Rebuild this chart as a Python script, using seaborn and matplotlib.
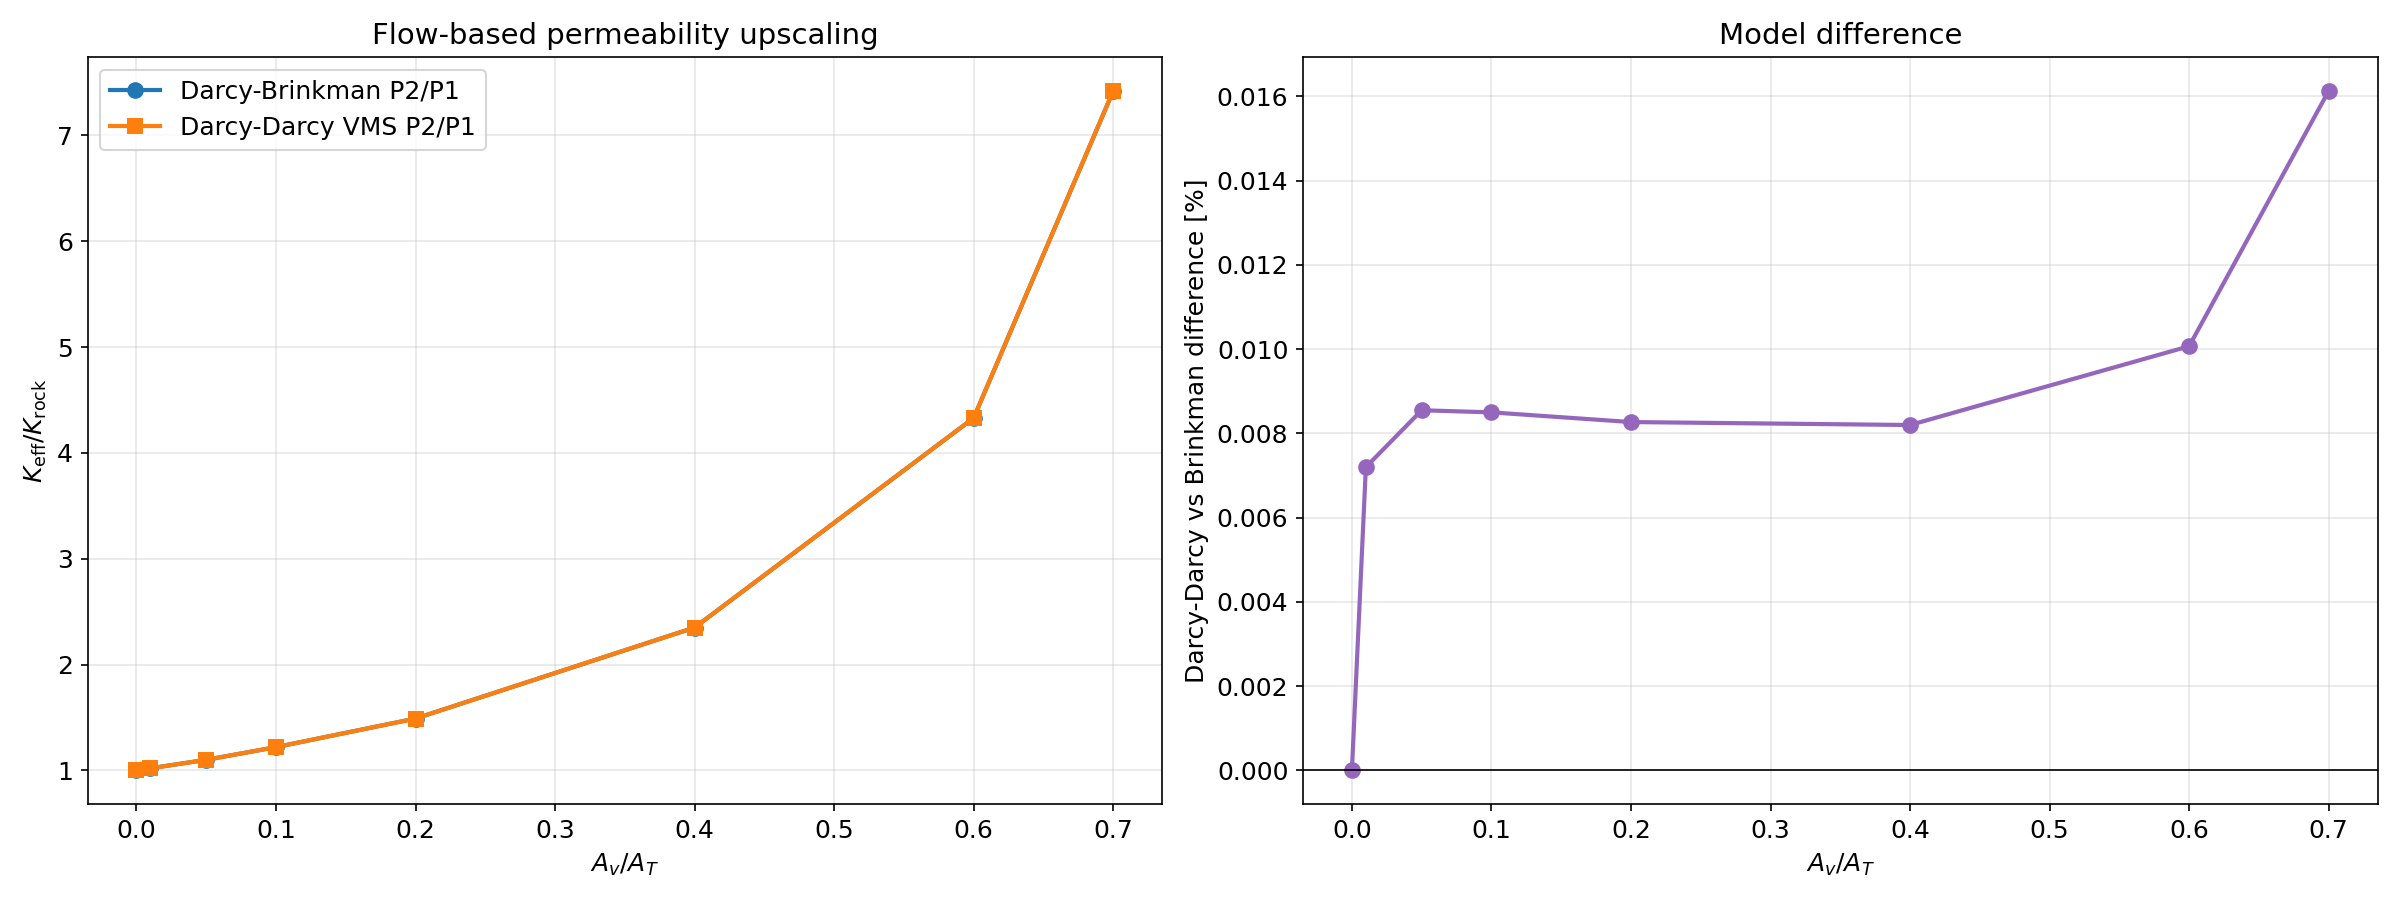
import matplotlib
matplotlib.use("Agg")
import matplotlib.pyplot as plt
import seaborn as sns
import pandas as pd

area_ratio = [0.0, 0.01, 0.05, 0.1, 0.2, 0.4, 0.6, 0.7]
k_brinkman = [1.0, 1.02, 1.10, 1.22, 1.49, 2.35, 4.33, 7.42]
k_darcy = [1.0, 1.02, 1.10, 1.22, 1.49, 2.35, 4.33, 7.42]
diff_pct = [0.0, 0.0072, 0.00855, 0.0085, 0.00827, 0.0082, 0.01007, 0.01613]

plt.rcParams['font.family'] = ['DejaVu Sans']
fig, (ax1, ax2) = plt.subplots(1, 2, figsize=(16, 6), dpi=150)

df = pd.DataFrame({"x": area_ratio, "b": k_brinkman, "d": k_darcy, "diff": diff_pct})
sns.lineplot(data=df, x="x", y="b", ax=ax1, marker="o", color="#1f77b4", lw=2, markersize=8,
             markeredgewidth=0, label="Darcy-Brinkman P2/P1")
sns.lineplot(data=df, x="x", y="d", ax=ax1, marker="s", color="#ff7f0e", lw=2, markersize=8,
             markeredgewidth=0, label="Darcy-Darcy VMS P2/P1")
ax1.set_title("Flow-based permeability upscaling", fontsize=14)
ax1.set_xlabel(r"$A_v/A_T$", fontsize=12)
ax1.set_ylabel(r"$K_{\mathrm{eff}}/K_{\mathrm{rock}}$", fontsize=12)
ax1.grid(True, alpha=0.3)
ax1.legend(loc="upper left", fontsize=12)
ax1.tick_params(labelsize=12)

sns.lineplot(data=df, x="x", y="diff", ax=ax2, marker="o", color="#9467bd", lw=2, markersize=8,
             markeredgewidth=0)
ax2.axhline(0, color="black", lw=0.8)
ax2.set_title("Model difference", fontsize=14)
ax2.set_xlabel(r"$A_v/A_T$", fontsize=12)
ax2.set_ylabel("Darcy-Darcy vs Brinkman difference [%]", fontsize=12)
ax2.grid(True, alpha=0.3)
ax2.tick_params(labelsize=12)

fig.tight_layout()
fig.savefig("out.png")
